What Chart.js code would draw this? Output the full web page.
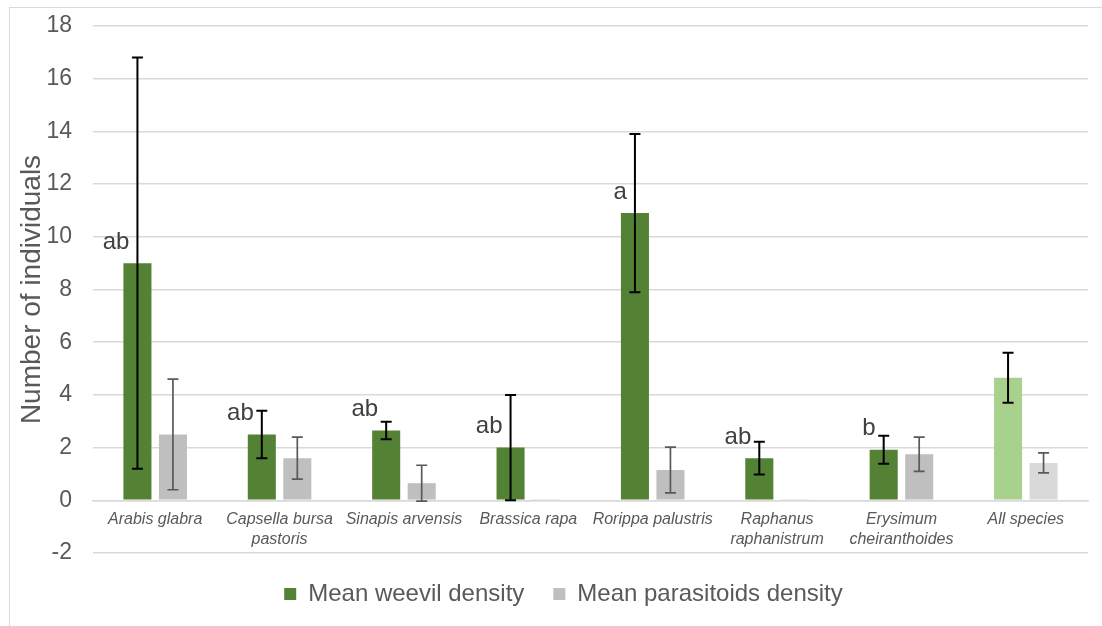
<!DOCTYPE html>
<html>
<head>
<meta charset="utf-8">
<title>Weevil and parasitoid density by host plant</title>
<script src="https://cdn.jsdelivr.net/npm/chart.js@4.4.1/dist/chart.umd.min.js"></script>
<style>
  html, body { margin: 0; padding: 0; background: #ffffff; overflow: hidden; }
  #wrap { position: relative; width: 1102px; height: 626px; }
  canvas { display: block; }
</style>
</head>
<body>
<div id="wrap"><canvas id="chart" width="1102" height="626"></canvas></div>
<script>
// Host plant species (multi-line labels as arrays)
const categories = [
  'Arabis glabra',
  ['Capsella bursa', 'pastoris'],
  'Sinapis arvensis',
  'Brassica rapa',
  'Rorippa palustris',
  ['Raphanus', 'raphanistrum'],
  ['Erysimum', 'cheiranthoides'],
  'All species'
];

// Mean weevil density per plant and its error
const weevilMean = [9.0, 2.5, 2.65, 2.0, 10.9, 1.6, 1.92, 4.65];
const weevilErr  = [7.8, 0.9, 0.33, 2.0, 3.0, 0.62, 0.53, 0.95];

// Mean parasitoid density per plant and its error
const parasitoidMean = [2.5, 1.6, 0.65, 0.04, 1.15, 0.04, 1.75, 1.42];
const parasitoidErr  = [2.1, 0.8, 0.68, 0, 0.87, 0, 0.65, 0.38];

// Significance letters shown above the weevil bars
const groupLetters = ['ab', 'ab', 'ab', 'ab', 'a', 'ab', 'b', ''];

// Y axis range
const yMin = -2;
const yMax = 18;
const yStep = 2;

const FONT = '"Liberation Sans", Arial, Helvetica, sans-serif';
const TEXT = '#595959';
const GRID = '#d9d9d9';

Chart.defaults.font.family = FONT;
Chart.defaults.color = TEXT;

const lastIdx = categories.length - 1;
const weevilColors = categories.map((_, i) => i === lastIdx ? '#a9d18e' : '#548235');
const parasitoidColors = categories.map((_, i) => i === lastIdx ? '#d9d9d9' : '#bfbfbf');

// Light frame around the chart
const framePlugin = {
  id: 'frame',
  beforeDraw(chart) {
    const ctx = chart.ctx;
    ctx.save();
    ctx.fillStyle = '#ffffff';
    ctx.fillRect(0, 0, chart.width, chart.height);
    ctx.strokeStyle = GRID;
    ctx.lineWidth = 1;
    ctx.strokeRect(9.5, 7.5, chart.width + 50, chart.height + 50);
    ctx.restore();
  }
};

// Error bars drawn from each dataset's errors
const errorBarPlugin = {
  id: 'errorBars',
  afterDatasetsDraw(chart) {
    const ctx = chart.ctx;
    const yScale = chart.scales.y;
    chart.data.datasets.forEach((ds, di) => {
      const meta = chart.getDatasetMeta(di);
      const errs = ds.errors || [];
      meta.data.forEach((bar, i) => {
        const e = errs[i];
        if (!e) return;
        const v = ds.data[i];
        const x = bar.x;
        const yHi = yScale.getPixelForValue(v + e);
        const yLo = yScale.getPixelForValue(v - e);
        const cap = 5.5;
        ctx.save();
        ctx.strokeStyle = ds.errorColor;
        ctx.lineWidth = ds.errorWidth;
        ctx.beginPath();
        ctx.moveTo(x, yHi); ctx.lineTo(x, yLo);
        ctx.moveTo(x - cap, yHi); ctx.lineTo(x + cap, yHi);
        ctx.moveTo(x - cap, yLo); ctx.lineTo(x + cap, yLo);
        ctx.stroke();
        ctx.restore();
      });
    });
  }
};

// Letters placed above-left of the weevil bars
const letterPlugin = {
  id: 'groupLetters',
  afterDatasetsDraw(chart) {
    const ctx = chart.ctx;
    const yScale = chart.scales.y;
    const meta = chart.getDatasetMeta(0);
    ctx.save();
    ctx.font = '24px ' + FONT;
    ctx.fillStyle = '#404040';
    ctx.textAlign = 'right';
    ctx.textBaseline = 'middle';
    meta.data.forEach((bar, i) => {
      const t = groupLetters[i];
      if (!t) return;
      const y = yScale.getPixelForValue(weevilMean[i]) - 21;
      ctx.fillText(t, bar.x - 8, y);
    });
    ctx.restore();
  }
};

new Chart(document.getElementById('chart'), {
  type: 'bar',
  data: {
    labels: categories,
    datasets: [
      {
        label: 'Mean weevil density',
        data: weevilMean,
        errors: weevilErr,
        errorColor: '#000000',
        errorWidth: 2,
        backgroundColor: weevilColors,
        borderWidth: 0,
        categoryPercentage: 0.571,
        barPercentage: 0.79
      },
      {
        label: 'Mean parasitoids density',
        data: parasitoidMean,
        errors: parasitoidErr,
        errorColor: '#595959',
        errorWidth: 1.7,
        backgroundColor: parasitoidColors,
        borderWidth: 0,
        categoryPercentage: 0.571,
        barPercentage: 0.79
      }
    ]
  },
  options: {
    responsive: false,
    animation: false,
    devicePixelRatio: 1,
    layout: { padding: { left: 39, right: 14, top: 26, bottom: 10 } },
    plugins: {
      tooltip: { enabled: false },
      legend: {
        position: 'bottom',
        labels: {
          boxWidth: 12,
          boxHeight: 12,
          padding: 29,
          color: TEXT,
          font: { size: 24, family: FONT }
        }
      }
    },
    scales: {
      x: {
        position: { y: 0 },
        afterFit(scale) { scale.height = 0; },
        grid: { display: false, drawTicks: false },
        border: { display: true, color: GRID, width: 1.5 },
        ticks: {
          autoSkip: false,
          maxRotation: 0,
          minRotation: 0,
          padding: 10,
          color: TEXT,
          font: { size: 16, style: 'italic', family: FONT, lineHeight: 1.2 }
        }
      },
      y: {
        min: yMin,
        max: yMax,
        afterFit(scale) {
          scale.width = 54;
          scale.paddingTop = 0;
          scale.paddingBottom = 0;
        },
        grid: { color: GRID, lineWidth: 1.5, drawTicks: false },
        border: { display: false },
        ticks: {
          stepSize: yStep,
          padding: 21,
          color: TEXT,
          font: { size: 23, family: FONT }
        },
        title: {
          display: true,
          text: 'Number of individuals',
          color: TEXT,
          font: { size: 28, family: FONT },
          padding: { top: -23.8, bottom: 0 }
        }
      }
    }
  },
  plugins: [framePlugin, errorBarPlugin, letterPlugin]
});
</script>
</body>
</html>
